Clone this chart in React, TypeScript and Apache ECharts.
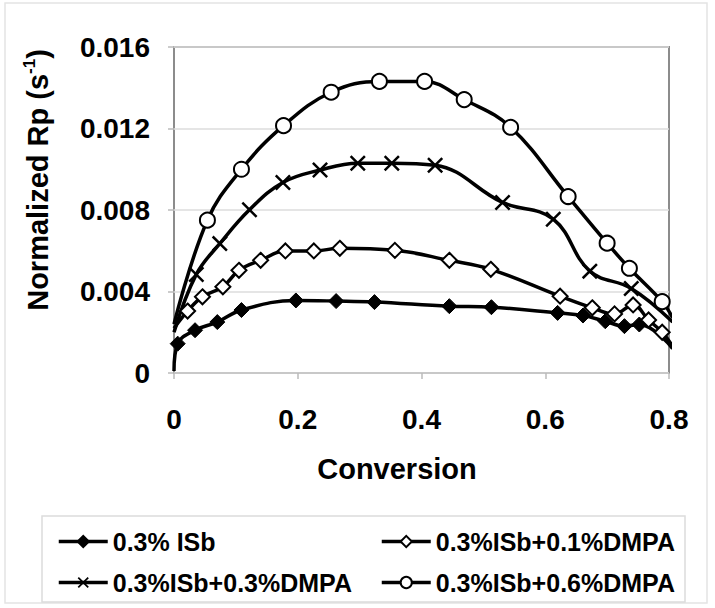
import React, { useEffect, useRef } from "react";
import * as echarts from "echarts";

// ---- data ----
const seriesNames = [
  "0.3% ISb",
  "0.3%ISb+0.1%DMPA",
  "0.3%ISb+0.3%DMPA",
  "0.3%ISb+0.6%DMPA",
];

const xIsb = [0, 0.006, 0.034, 0.07, 0.109, 0.197, 0.262, 0.324, 0.445, 0.513, 0.62, 0.661, 0.697, 0.728, 0.752, 0.806];
const yIsb = [0.0001, 0.00144, 0.0021, 0.0025, 0.00309, 0.00356, 0.00353, 0.00348, 0.00328, 0.00323, 0.00295, 0.00282, 0.00254, 0.0023, 0.00238, 0.0012];

const xD01 = [0, 0.022, 0.046, 0.079, 0.105, 0.14, 0.18, 0.226, 0.268, 0.357, 0.445, 0.512, 0.624, 0.676, 0.712, 0.742, 0.767, 0.789, 0.806];
const yD01 = [0.0022, 0.00304, 0.00374, 0.00423, 0.00504, 0.00553, 0.00599, 0.00599, 0.00612, 0.00602, 0.00553, 0.00509, 0.00377, 0.0032, 0.0029, 0.00334, 0.0026, 0.002, 0.0013];

const xD03 = [0, 0.036, 0.074, 0.122, 0.176, 0.236, 0.297, 0.352, 0.422, 0.531, 0.613, 0.672, 0.739, 0.806];
const yD03 = [0.002, 0.00484, 0.00635, 0.00801, 0.00935, 0.00996, 0.0103, 0.0103, 0.0102, 0.00837, 0.00755, 0.005, 0.00415, 0.0025];

const xD06 = [0, 0.054, 0.109, 0.177, 0.254, 0.332, 0.405, 0.469, 0.544, 0.637, 0.7, 0.736, 0.789, 0.806];
const yD06 = [0.0024, 0.0075, 0.01, 0.01214, 0.01378, 0.01431, 0.01431, 0.01342, 0.01206, 0.00866, 0.00637, 0.00514, 0.0035, 0.0027];

const xTicks = { min: 0, max: 0.8, interval: 0.2 };
const yTicks = { min: 0, max: 0.016, interval: 0.004 };

const FONT = "Liberation Sans, Arial, sans-serif";
const CROSS = "path://M0,1.1 L1.1,0 L10,8.9 L8.9,10 Z M8.9,0 L10,1.1 L1.1,10 L0,8.9 Z";

function build(xs: number[], ys: number[]) {
  const last = xs.length - 1;
  return xs.map((x, i) =>
    i === 0 || i === last
      ? { value: [x, ys[i]], symbol: "none" }
      : { value: [x, ys[i]] }
  );
}

export default function App() {
  const ref = useRef<HTMLDivElement>(null);
  useEffect(() => {
    if (!ref.current) return;
    const chart = echarts.init(ref.current, undefined, { renderer: "svg" });
    const lineStyle = { color: "#000", width: 3.5 };
    const mk = (name: string, xs: number[], ys: number[], symbol: string, size: number, fill: string, border: number) => ({
      type: "line",
      name,
      data: build(xs, ys),
      smooth: 0.4,
      clip: false,
      symbol,
      symbolSize: size,
      showAllSymbol: true,
      lineStyle,
      itemStyle: { color: fill, borderColor: "#000", borderWidth: border },
      emphasis: { disabled: true },
    });
    const legendBase = {
      itemWidth: 49,
      itemHeight: 14,
      selectedMode: false,
      lineStyle: { width: 3.5, color: "#000" },
      textStyle: { fontSize: 25, fontWeight: "bold", color: "#000", fontFamily: FONT },
      padding: 0,
    };
    chart.setOption({
      animation: false,
      backgroundColor: "#fff",
      textStyle: { fontFamily: FONT },
      grid: {
        left: 174, top: 47, width: 495, height: 326,
        show: true, borderColor: "#8c8c8c", borderWidth: 2, backgroundColor: "transparent",
      },
      xAxis: {
        type: "value",
        min: xTicks.min, max: xTicks.max, interval: xTicks.interval,
        axisLine: { show: false },
        axisTick: { show: true, length: 6, lineStyle: { color: "#bbb", width: 1.5 } },
        splitLine: { show: false },
        axisLabel: {
          fontSize: 28, fontWeight: "bold", color: "#000", margin: 32, fontFamily: FONT,
          formatter: (v: number) => (v === 0 ? "0" : v.toFixed(1)),
        },
      },
      yAxis: {
        type: "value",
        min: yTicks.min, max: yTicks.max, interval: yTicks.interval,
        axisLine: { show: false },
        axisTick: { show: true, length: 6, lineStyle: { color: "#bbb", width: 1.5 } },
        splitLine: { show: true, lineStyle: { color: "#dcdcdc", width: 1.5 } },
        axisLabel: {
          fontSize: 28, fontWeight: "bold", color: "#000", margin: 24, fontFamily: FONT,
          formatter: (v: number) => (v === 0 ? "0" : v.toFixed(3)),
        },
      },
      legend: [
        { ...legendBase, data: [seriesNames[0]], left: 57, top: 529 },
        { ...legendBase, data: [seriesNames[1]], left: 380, top: 529 },
        { ...legendBase, data: [seriesNames[2]], left: 57, top: 570 },
        { ...legendBase, data: [seriesNames[3]], left: 380, top: 570 },
      ],
      graphic: [
        {
          type: "rect", silent: true,
          shape: { x: 5, y: 3, width: 702, height: 600 },
          style: { fill: "none", stroke: "#e4e4e4", lineWidth: 1.5 },
        },
        {
          type: "rect", silent: true,
          shape: { x: 42, y: 516, width: 643, height: 86 },
          style: { fill: "none", stroke: "#dcdcdc", lineWidth: 1.5 },
        },
        {
          type: "text", silent: true, x: 397, y: 469,
          style: {
            text: "Conversion", fill: "#000", align: "center", verticalAlign: "middle",
            font: `bold 29px ${FONT}`,
          },
        },
        {
          type: "text", silent: true, x: 38, y: 180, rotation: Math.PI / 2,
          style: {
            text: "{a|Normalized Rp (s}{b|-1}{a|)}",
            align: "center", verticalAlign: "middle", fill: "#000",
            rich: {
              a: { fontSize: 29, fontWeight: "bold", fontFamily: FONT, lineHeight: 34, fill: "#000" },
              b: { fontSize: 17, fontWeight: "bold", fontFamily: FONT, lineHeight: 18, verticalAlign: "top", fill: "#000" },
            },
          },
        },
      ],
      series: [
        mk(seriesNames[0], xIsb, yIsb, "diamond", 15, "#000", 1),
        mk(seriesNames[1], xD01, yD01, "diamond", 15, "#fff", 2),
        mk(seriesNames[2], xD03, yD03, CROSS, 16, "#000", 0),
        mk(seriesNames[3], xD06, yD06, "circle", 15, "#fff", 2),
      ],
    });
    return () => chart.dispose();
  }, []);
  return (
    <div
      ref={ref}
      style={{ position: "fixed", left: 0, top: 0, width: 715, height: 608 }}
    />
  );
}
